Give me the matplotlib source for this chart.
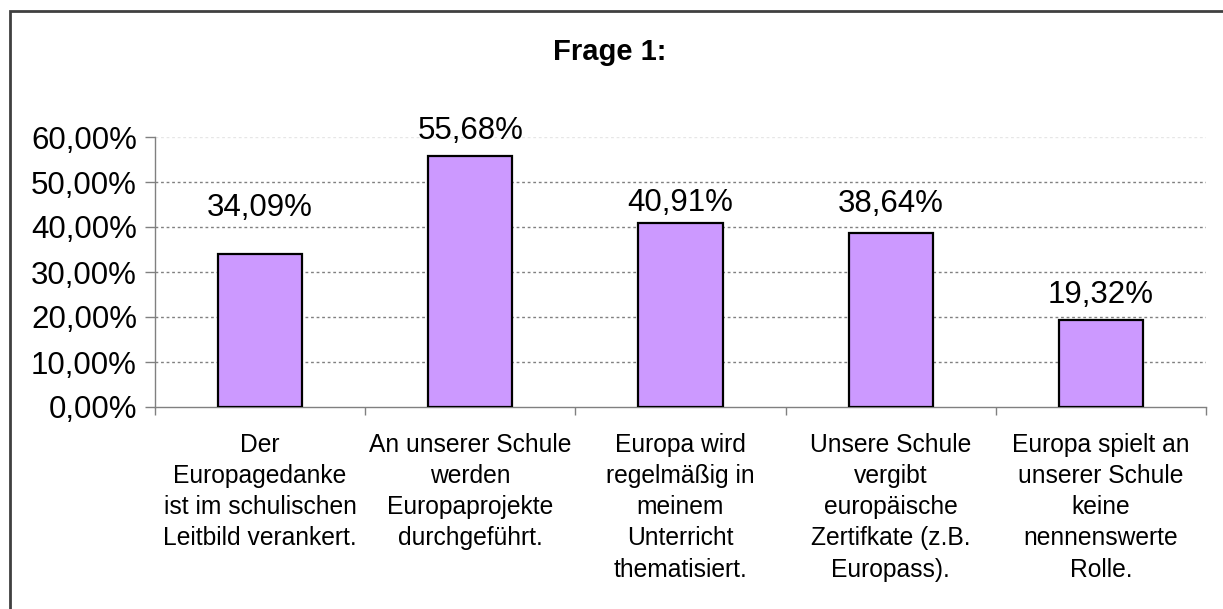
import numpy as np
import matplotlib
matplotlib.use('Agg')
import matplotlib.pyplot as plt
from matplotlib.patches import Rectangle

plt.rcParams['font.family'] = ['Liberation Sans', 'DejaVu Sans']

kategorien = ['Der\nEuropagedanke\nist im schulischen\nLeitbild verankert.',
              'An unserer Schule\nwerden\nEuropaprojekte\ndurchgeführt.',
              'Europa wird\nregelmäßig in\nmeinem\nUnterricht\nthematisiert.',
              'Unsere Schule\nvergibt\neuropäische\nZertifkate (z.B.\nEuropass).',
              'Europa spielt an\nunserer Schule\nkeine\nnennenswerte\nRolle.']
werte = [34.09, 55.68, 40.91, 38.64, 19.32]
yticks = [0, 10, 20, 30, 40, 50, 60]

# Abstand der Beschriftung über dem Balken (Pixel), wie im Original von Hand verschoben
label_abstand = [38, 17, 12, 21, 17]

def fmt(v):
    return ('%.2f%%' % v).replace('.', ',')

fig = plt.figure(figsize=(12.23, 6.09), dpi=100)
ax = fig.add_axes([155/1223, 202/609, (1206-155)/1223, 270/609])

x = np.arange(len(werte))
ax.bar(x, werte, width=0.4, color='#CC99FF', edgecolor='black', linewidth=1.6, zorder=3)
for xi, v, d in zip(x, werte, label_abstand):
    ax.annotate(fmt(v), (xi, v), xytext=(0, d), textcoords='offset pixels',
                ha='center', va='baseline', fontsize=22.5)

ax.set_xlim(-0.5, len(werte) - 0.5)
ax.set_ylim(0, 60)
ax.set_yticks(yticks)
ax.set_yticklabels([fmt(t) for t in yticks], fontsize=22.5)
for t in yticks[1:]:
    ax.axhline(t, color='#808080' if t < 60 else '#e6e6e6', linestyle=(0, (2, 2)),
               linewidth=1, zorder=1)

ax.set_xticks(x)
ax.set_xticklabels(kategorien, fontsize=17.7, linespacing=1.37)
ax.tick_params(axis='x', length=0, pad=19)
ax.set_xticks(np.arange(len(werte) + 1) - 0.5, minor=True)
ax.tick_params(axis='x', which='minor', length=6, width=1, color='#808080', direction='out')
ax.tick_params(axis='y', length=7, width=1, color='#808080', pad=6)

for s in ['top', 'right']:
    ax.spines[s].set_visible(False)
for s in ['left', 'bottom']:
    ax.spines[s].set_color('#808080')
    ax.spines[s].set_linewidth(1)

fig.text(610/1223, 1 - 52/609, 'Frage 1:', ha='center', va='center',
         fontsize=21, fontweight='bold')

fig.patches.append(Rectangle((9.5/1223, -0.1), 1.2, 1 - 11/609 + 0.1,
                             transform=fig.transFigure, fill=False,
                             edgecolor='#404040', linewidth=2))

fig.savefig('out.png', dpi=100)
